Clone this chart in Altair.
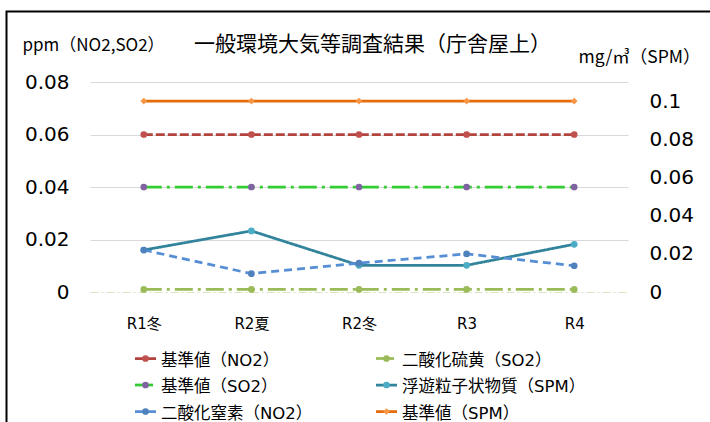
import altair as alt
import pandas as pd

# ---- data ----
periods = ["R1冬", "R2夏", "R2冬", "R3", "R4"]
series_names = ["基準値（NO2）", "二酸化硫黄（SO2）", "基準値（SO2）",
                "浮遊粒子状物質（SPM）", "二酸化窒素（NO2）", "基準値（SPM）"]
no2_std = [0.06, 0.06, 0.06, 0.06, 0.06]          # ppm
so2 = [0.001, 0.001, 0.001, 0.001, 0.001]          # ppm
so2_std = [0.04, 0.04, 0.04, 0.04, 0.04]           # ppm
spm = [0.022, 0.032, 0.014, 0.014, 0.025]          # mg/m3
no2 = [0.016, 0.007, 0.011, 0.0145, 0.010]         # ppm
spm_std = [0.1, 0.1, 0.1, 0.1, 0.1]                # mg/m3
left_ticks = [0, 0.02, 0.04, 0.06, 0.08]
right_ticks = [0, 0.02, 0.04, 0.06, 0.08, 0.1]

left_series = {series_names[0]: no2_std, series_names[1]: so2,
               series_names[2]: so2_std, series_names[4]: no2}
right_series = {series_names[3]: spm, series_names[5]: spm_std}


def long_df(d):
    rows = []
    for name, vals in d.items():
        for p, v in zip(periods, vals):
            rows.append({"series": name, "period": p, "value": v})
    return pd.DataFrame(rows)


left_df = long_df(left_series)
right_df = long_df(right_series)
legend_df = pd.DataFrame({"series": series_names, "idx": list(range(len(series_names)))})

# ---- styles ----
LATIN = "DejaVu Sans, Noto Sans CJK JP"
CJK = "Noto Sans CJK JP"
line_colors = ["#B3433F", "#9BBB59", "#33CC33", "#31849B", "#558ED5", "#E46C0A"]
marker_colors = ["#C0504D", "#9BBB59", "#8064A2", "#4BACC6", "#4F81BD", "#F79646"]
dashes = [[9, 3], [18, 5, 3, 5], [18, 5, 3, 5], [1, 0], [8, 5], [1, 0]]
shapes = ["circle", "circle", "circle", "circle", "circle", "diamond"]

stroke_scale = alt.Scale(domain=series_names, range=line_colors)
fill_scale = alt.Scale(domain=series_names, range=marker_colors)
dash_scale = alt.Scale(domain=series_names, range=dashes)
shape_scale = alt.Scale(domain=series_names, range=shapes)

x_scale = alt.Scale(type="point", padding=0.5, domain=periods)
x_axis = alt.Axis(labelFontSize=15, labelFont=LATIN, labelColor="#000000",
                  labelPadding=24, labelAngle=0, ticks=False, grid=False,
                  domain=True, domainColor="#D7E4BD", domainDash=[8, 3, 2, 3],
                  domainWidth=1.2, title=None)
x_main = alt.X("period:O", scale=x_scale, axis=x_axis)
x_noaxis = alt.X("period:O", scale=x_scale, axis=None)

left_axis = alt.Axis(values=left_ticks, format="~g", labelFontSize=20, labelFont=LATIN,
                     labelColor="#000000", labelPadding=21, domain=False, ticks=False,
                     grid=True, gridColor="#D9D9D9", gridWidth=1,
                     gridOpacity={"condition": {"test": "datum.value === 0", "value": 0}, "value": 1},
                     title="ppm（NO2,SO2）", titleAngle=0, titleX=-68, titleY=-37,
                     titleAlign="left", titleBaseline="middle", titleFontSize=17,
                     titleFont=CJK, titleFontWeight="normal", titleColor="#000000")
right_axis = alt.Axis(orient="right", values=right_ticks, format="~g", labelFontSize=20,
                      labelFont=LATIN, labelColor="#000000", labelPadding=21,
                      domain=False, ticks=False, grid=False,
                      title="mg/㎥（SPM）", titleAngle=0, titleX=-50, titleY=-25,
                      titleAlign="left", titleBaseline="middle", titleFontSize=17.5,
                      titleFont=CJK, titleFontWeight="normal", titleColor="#000000")

enc_stroke = alt.Stroke("series:N", scale=stroke_scale, legend=None)
enc_fill = alt.Fill("series:N", scale=fill_scale, legend=None)
enc_dash = alt.StrokeDash("series:N", scale=dash_scale, legend=None)
enc_shape = alt.Shape("series:N", scale=shape_scale, legend=None)

# right (SPM) group
y_right = alt.Y("value:Q", scale=alt.Scale(domain=[0, 0.11]), axis=right_axis)
r_line = alt.Chart(right_df).mark_line(strokeWidth=2.75).encode(
    x=x_noaxis, y=y_right, stroke=enc_stroke, strokeDash=enc_dash)
r_pts = alt.Chart(right_df).mark_point(filled=True, size=45, opacity=1, strokeWidth=0).encode(
    x=x_noaxis, y=y_right, fill=enc_fill, shape=enc_shape)
right_group = alt.layer(r_line, r_pts)

# left (ppm) group
y_left = alt.Y("value:Q", scale=alt.Scale(domain=[0, 0.08]), axis=left_axis)
l_line = alt.Chart(left_df).mark_line(strokeWidth=2.75).encode(
    x=x_main, y=y_left, stroke=enc_stroke, strokeDash=enc_dash)
l_pts = alt.Chart(left_df).mark_point(filled=True, size=45, opacity=1, strokeWidth=0).encode(
    x=x_main, y=y_left, fill=enc_fill, shape=enc_shape)
left_group = alt.layer(l_line, l_pts)

# legend (2 columns, row-major), placed below the plot
leg = alt.Chart(legend_df).transform_calculate(
    col="datum.idx % 2", row="floor(datum.idx / 2)"
).transform_calculate(
    lx0="45 + datum.col * 241", ly="276.5 + datum.row * 26.5"
).transform_calculate(
    lx1="datum.lx0 + 21", lxm="datum.lx0 + 10.5", ltx="datum.lx0 + 26"
)
leg_y = alt.Y("ly:Q", scale=None, axis=None)
leg_rule = leg.mark_rule(strokeWidth=2.75).encode(
    x=alt.X("lx0:Q", scale=None, axis=None), x2="lx1:Q", y=leg_y,
    stroke=enc_stroke, strokeDash=enc_dash)
leg_pts = leg.mark_point(filled=True, size=45, opacity=1, strokeWidth=0).encode(
    x=alt.X("lxm:Q", scale=None, axis=None), y=leg_y, fill=enc_fill, shape=enc_shape)
leg_txt = leg.mark_text(align="left", baseline="middle", fontSize=16.5, dy=2,
                        font=LATIN, color="#000000").encode(
    x=alt.X("ltx:Q", scale=None, axis=None), y=leg_y, text="series:N")
legend_group = alt.layer(leg_rule, leg_pts, leg_txt)

# outer chart frame (extends past the right and bottom edges of the picture)
frame = alt.Chart(pd.DataFrame({"a": [0]})).mark_rect(
    fillOpacity=0, stroke="#000000", strokeWidth=2).encode(
    x=alt.value(-83.5), x2=alt.value(800), y=alt.value(-70.5), y2=alt.value(520))

chart = alt.layer(frame, right_group, left_group, legend_group).resolve_scale(
    y="independent", x="independent"
).properties(
    width=538, height=210,
    padding={"left": 90, "top": 82, "right": 82, "bottom": 130},
    autosize="none",
    background="#FFFFFF",
    title=alt.TitleParams("一般環境大気等調査結果（庁舎屋上）", anchor="start", frame="group",
                          fontSize=21, font=CJK, fontWeight="normal", color="#000000",
                          dx=104, dy=48),
).configure_view(strokeWidth=0)

chart.save("out.html", embed_options={"renderer": "svg", "actions": False})
